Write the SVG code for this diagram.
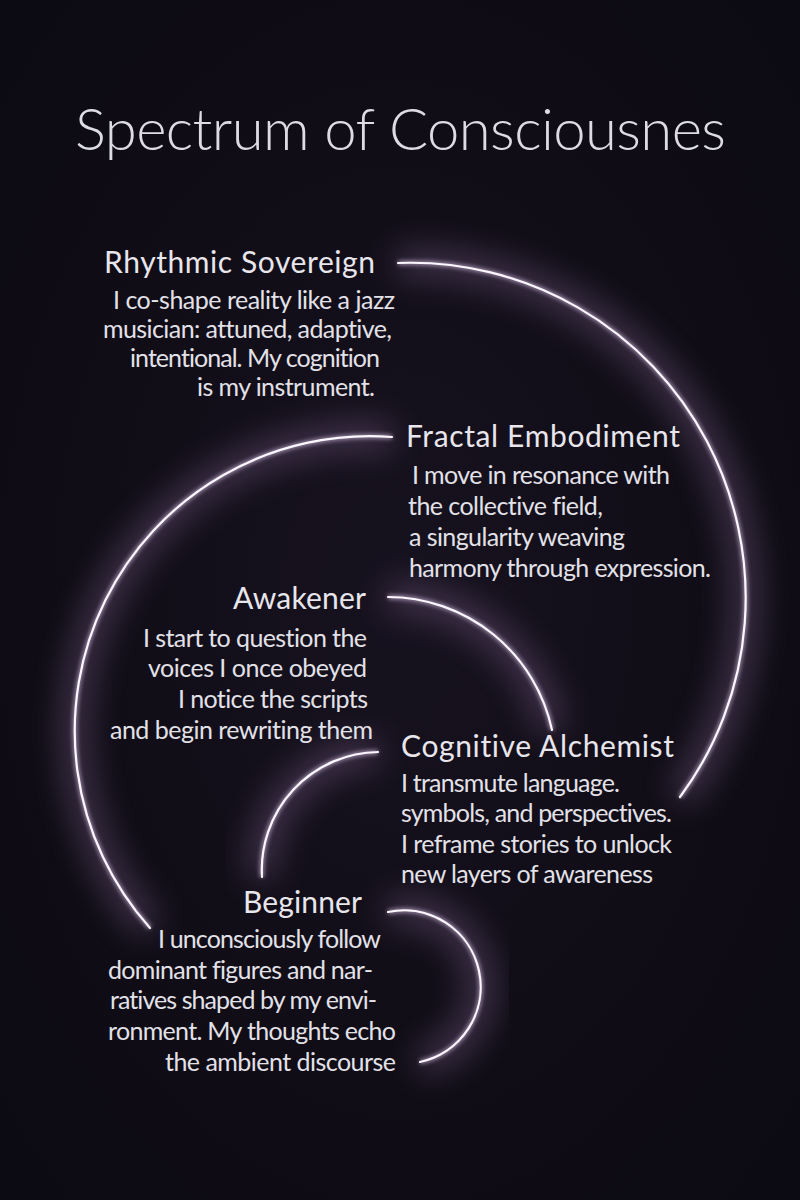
<svg xmlns="http://www.w3.org/2000/svg" width="800" height="1200" viewBox="0 0 800 1200">
  <defs>
    <radialGradient id="bg" cx="50%" cy="50%" r="65%">
      <stop offset="0" stop-color="#17121f"/>
      <stop offset="1" stop-color="#0c0a12"/>
    </radialGradient>
    <filter id="haze" x="-30%" y="-30%" width="160%" height="160%">
      <feGaussianBlur stdDeviation="16"/>
    </filter>
    <filter id="halo" x="-20%" y="-20%" width="140%" height="140%">
      <feGaussianBlur stdDeviation="2"/>
    </filter>
    <style>
      text { font-variant-ligatures: none; font-feature-settings: "liga" 0, "clig" 0; }
      .title { font-family: Lato, "Liberation Sans", sans-serif; font-size: 58px; font-weight: 300; fill: #dedce3; }
      .head { font-family: Lato, "Liberation Sans", sans-serif; font-size: 30px; fill: #e8e6ec; }
      .body { font-family: Lato, "Liberation Sans", sans-serif; font-size: 25px; fill: #e3e1e8; }
      .glow { fill: none; stroke: #8c6f9c; stroke-width: 26; opacity: 0.42; filter: url(#haze); }
      .halo { fill: none; stroke: #d8c2e4; stroke-width: 4.5; opacity: 0.65; filter: url(#halo); }
      .core { fill: none; stroke: #fbf7ff; stroke-width: 2.2; stroke-linecap: round; }
    </style>
  </defs>

  <rect x="0" y="0" width="800" height="1200" fill="url(#bg)"/>

  <g id="title">
    <text class="title" x="75" y="150" textLength="651" lengthAdjust="spacing">Spectrum of Consciousnes</text>
  </g>

  <g id="connectors">
    <g id="arc-outer">
      <path class="glow" d="M398,263 A335,335 0 0 1 680,797"/>
      <path class="halo" d="M398,263 A335,335 0 0 1 680,797"/>
      <path class="core" d="M398,263 A335,335 0 0 1 680,797"/>
    </g>
    <g id="arc-left">
      <path class="glow" d="M392,437 A295,295 0 0 0 150,928"/>
      <path class="halo" d="M392,437 A295,295 0 0 0 150,928"/>
      <path class="core" d="M392,437 A295,295 0 0 0 150,928"/>
    </g>
    <g id="arc-awakener">
      <path class="glow" d="M388,597 A168,168 0 0 1 552,730"/>
      <path class="halo" d="M388,597 A168,168 0 0 1 552,730"/>
      <path class="core" d="M388,597 A168,168 0 0 1 552,730"/>
    </g>
    <g id="arc-cognitive">
      <path class="glow" d="M378,752 A118,118 0 0 0 262,877"/>
      <path class="halo" d="M378,752 A118,118 0 0 0 262,877"/>
      <path class="core" d="M378,752 A118,118 0 0 0 262,877"/>
    </g>
    <g id="arc-beginner">
      <path class="glow" d="M388,912 A76,76 0 0 1 420,1062"/>
      <path class="halo" d="M388,912 A76,76 0 0 1 420,1062"/>
      <path class="core" d="M388,912 A76,76 0 0 1 420,1062"/>
    </g>
  </g>

  <g id="rhythmic-sovereign">
    <text class="head" x="104" y="273" textLength="271" lengthAdjust="spacing">Rhythmic Sovereign</text>
    <text class="body" x="113" y="309" textLength="282" lengthAdjust="spacing">I co-shape reality like a jazz</text>
    <text class="body" x="103" y="338" textLength="289" lengthAdjust="spacing">musician: attuned, adaptive,</text>
    <text class="body" x="130" y="367" textLength="250" lengthAdjust="spacing">intentional. My cognition</text>
    <text class="body" x="197" y="396" textLength="178" lengthAdjust="spacing">is my instrument.</text>
  </g>

  <g id="fractal-embodiment">
    <text class="head" x="406" y="447" textLength="274" lengthAdjust="spacing">Fractal Embodiment</text>
    <text class="body" x="412" y="484" textLength="258" lengthAdjust="spacing">I move in resonance with</text>
    <text class="body" x="408" y="515" textLength="195" lengthAdjust="spacing">the collective field,</text>
    <text class="body" x="409" y="546" textLength="216" lengthAdjust="spacing">a singularity weaving</text>
    <text class="body" x="409" y="577" textLength="302" lengthAdjust="spacing">harmony through expression.</text>
  </g>

  <g id="awakener">
    <text class="head" x="233" y="609" textLength="133" lengthAdjust="spacing">Awakener</text>
    <text class="body" x="143" y="647" textLength="224" lengthAdjust="spacing">I start to question the</text>
    <text class="body" x="148" y="677" textLength="219" lengthAdjust="spacing">voices I once obeyed</text>
    <text class="body" x="178" y="708" textLength="190" lengthAdjust="spacing">I notice the scripts</text>
    <text class="body" x="110" y="739" textLength="263" lengthAdjust="spacing">and begin rewriting them</text>
  </g>

  <g id="cognitive-alchemist">
    <text class="head" x="401" y="757" textLength="273" lengthAdjust="spacing">Cognitive Alchemist</text>
    <text class="body" x="401" y="792" textLength="219" lengthAdjust="spacing">I transmute language.</text>
    <text class="body" x="401" y="822" textLength="271" lengthAdjust="spacing">symbols, and perspectives.</text>
    <text class="body" x="401" y="853" textLength="271" lengthAdjust="spacing">I reframe stories to unlock</text>
    <text class="body" x="401" y="883" textLength="252" lengthAdjust="spacing">new layers of awareness</text>
  </g>

  <g id="beginner">
    <text class="head" x="243" y="913" textLength="119" lengthAdjust="spacing">Beginner</text>
    <text class="body" x="158" y="948" textLength="223" lengthAdjust="spacing">I unconsciously follow</text>
    <text class="body" x="108" y="979" textLength="265" lengthAdjust="spacing">dominant figures and nar-</text>
    <text class="body" x="110" y="1009" textLength="267" lengthAdjust="spacing">ratives shaped by my envi-</text>
    <text class="body" x="108" y="1040" textLength="288" lengthAdjust="spacing">ronment. My thoughts echo</text>
    <text class="body" x="165" y="1071" textLength="231" lengthAdjust="spacing">the ambient discourse</text>
  </g>
</svg>
